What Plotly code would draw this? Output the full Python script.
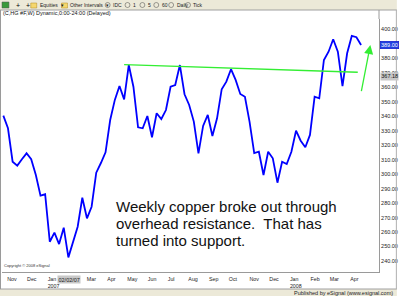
import pandas as pd
import plotly.graph_objects as go

# ---- data ----
start_date = "2006-10-27"
copper = [340.4, 331.7, 308.6, 305.9, 310.3, 314.4, 310.3, 299.4, 285.1, 286.1,
          253.3, 259.6, 251.7, 263.0, 242.5, 253.3, 263.7, 283.7, 269.5, 277.5,
          301.0, 307.7, 315.1, 337.4, 351.3, 360.9, 351.7, 375.4, 360.4, 332.4,
          331.7, 340.2, 325.5, 342.1, 338.1, 344.3, 360.4, 361.6, 375.4, 355.2,
          347.8, 336.3, 314.4, 333.3, 340.9, 326.4, 338.6, 358.7, 363.9, 372.5,
          365.1, 355.4, 353.5, 336.1, 314.6, 315.5, 299.4, 315.5, 311.0, 294.1,
          308.6, 307.0, 315.5, 330.0, 323.1, 318.6, 327.1, 353.5, 352.4, 378.9,
          384.6, 393.2, 384.6, 360.9, 383.5, 395.5, 394.6, 389.3]
dates = pd.date_range(start_date, periods=len(copper), freq="7D")

trend_dates = ["2007-04-27", "2008-04-13"]
trend_vals = [375.7, 370.4]

arrow_tail = ("2008-04-18", 356.3)
arrow_tip = ("2008-05-02", 389.3)

month_ticks = pd.date_range("2006-11-01", "2008-04-01", freq="MS")
# Feb 2007 is hidden behind the crosshair date box in the reference
month_text = ["Nov", "Dec", "Jan<br>2007", "", "Mar", "Apr", "May", "Jun", "Jul",
              "Aug", "Sep", "Oct", "Nov", "Dec", "Jan<br>2008", "Feb", "Mar", "Apr"]
y_ticks = list(range(240, 420, 10))
last_price_label = "389.00"
trend_price_label = "367.18"

note_lines = ["Weekly copper broke out through",
              "overhead resistance.\u00a0 That has",
              "turned into support."]

# ---- geometry helpers (plot area in pixels) ----
W, H = 400, 296
L, R, T, B = 2, 382, 19, 272


def px(x):
    return (x - L) / (R - L)


def py(y):
    return (B - y) / (B - T)


fig = go.Figure()
fig.add_trace(go.Scatter(x=dates, y=copper, mode="lines",
                         line=dict(color="#0000ff", width=1.8), hoverinfo="skip"))
fig.add_trace(go.Scatter(x=trend_dates, y=trend_vals, mode="lines",
                         line=dict(color="#33ee33", width=1.4), hoverinfo="skip"))

tick_font = dict(family="Liberation Sans", size=5.3, color="#222222")

fig.update_layout(
    width=W, height=H,
    margin=dict(l=L, r=W - R, t=T, b=H - B),
    paper_bgcolor="white", plot_bgcolor="white",
    showlegend=False,
    xaxis=dict(range=["2006-10-25", "2008-05-15"], tickvals=month_ticks, ticktext=month_text,
               ticks="", showgrid=False, zeroline=False, showline=True, linecolor="#9a9a9a",
               linewidth=1, ticklabelposition="outside right", tickangle=0, tickfont=tick_font,
               ticklabelstandoff=2),
    yaxis=dict(range=[232.4, 407.2], side="right", tickvals=y_ticks, tickformat=".2f",
               ticks="", showgrid=False, zeroline=False, showline=True, linecolor="#9a9a9a",
               linewidth=1, tickfont=dict(family="Liberation Sans", size=5.5, color="#222222")),
)

shapes = []
# top toolbar
shapes.append(dict(type="rect", xref="paper", yref="paper", x0=px(0), x1=px(W), y0=py(10), y1=py(0),
                   fillcolor="#ece9d8", line=dict(width=0), layer="above"))
shapes.append(dict(type="line", xref="paper", yref="paper", x0=px(0), x1=px(W), y0=py(10), y1=py(10),
                   line=dict(color="#a0a0a0", width=1)))
# bottom status bar
shapes.append(dict(type="rect", xref="paper", yref="paper", x0=px(0), x1=px(W), y0=py(H), y1=py(289),
                   fillcolor="#ece9d8", line=dict(width=0)))
shapes.append(dict(type="line", xref="paper", yref="paper", x0=px(0), x1=px(W), y0=py(289), y1=py(289),
                   line=dict(color="#a0a0a0", width=1)))
# left border and right axis extension
shapes.append(dict(type="line", xref="paper", yref="paper", x0=px(0.5), x1=px(0.5), y0=py(289), y1=py(10),
                   line=dict(color="#9a9a9a", width=1)))
shapes.append(dict(type="line", xref="paper", yref="paper", x0=1, x1=1, y0=1, y1=py(10),
                   line=dict(color="#9a9a9a", width=1)))
shapes.append(dict(type="line", xref="paper", yref="paper", x0=px(399.5), x1=px(399.5), y0=py(289), y1=py(10),
                   line=dict(color="#b0b0b0", width=1)))
# toolbar icons
shapes.append(dict(type="rect", xref="paper", yref="paper", x0=px(2), x1=px(9), y0=py(8), y1=py(2),
                   fillcolor="#3a9a3a", line=dict(color="#555555", width=0.5)))
for xx in [31, 62]:
    shapes.append(dict(type="rect", xref="paper", yref="paper", x0=px(xx), x1=px(xx + 6), y0=py(8), y1=py(3),
                       fillcolor="#f5d76e", line=dict(color="#b08a20", width=0.5)))
for xx in [106, 126, 141, 155, 170, 187]:
    shapes.append(dict(type="circle", xref="paper", yref="paper", x0=px(xx), x1=px(xx + 5), y0=py(7.5), y1=py(2.5),
                       line=dict(color="#444444", width=0.5)))
fig.update_layout(shapes=shapes)

small = dict(family="Liberation Sans", size=5, color="#222222")
anns = []


def ann(x, y, text, font, xanchor="left", **kw):
    anns.append(dict(x=px(x), y=py(y), xref="paper", yref="paper", text=text, showarrow=False,
                     xanchor=xanchor, yanchor="middle", font=font, **kw))


# toolbar text
ann(14, 5, "+", dict(family="Liberation Sans", size=7, color="#000000"))
ann(24, 5, "+", dict(family="Liberation Sans", size=7, color="#000000"))
ann(38, 5, "Equities  \u25be", small)
ann(69, 5, "Other Intervals  \u25be", small)
ann(112, 5, "IDC", small)
ann(132, 5, "1", small)
ann(147, 5, "5", small)
ann(161, 5, "60", small)
ann(176, 5, "Daily", small)
ann(193, 5, "Tick", small)
# chart title
ann(1, 13.5, "(C,HG #F,W) Dynamic,0:00-24:00 (Delayed)", dict(family="Liberation Sans", size=5.5, color="#111111"))
# copyright and status bar
ann(2, 265, "Copyright \u00a9 2008 eSignal", dict(family="Liberation Sans", size=4, color="#333333"))
ann(398, 292.5, "Published by eSignal (www.esignal.com)", dict(family="Liberation Sans", size=5.5, color="#222222"),
    xanchor="right")
# crosshair date label
ann(57, 279, "02/02/07", dict(family="Liberation Sans", size=5.5, color="#222222"),
    bgcolor="#c8c8c8", borderpad=0.5)

# note text
for i, line in enumerate(note_lines):
    ann(115, 206.5 + 17 * i, line, dict(family="Liberation Sans", size=15, color="#111111"))

# price labels on the right axis
anns.append(dict(x=1, y=copper[-1], xref="paper", yref="y", text=last_price_label, showarrow=False,
                 xanchor="left", xshift=1, font=dict(family="Liberation Sans", size=5.5, color="white"),
                 bgcolor="#2040e0", bordercolor="#0000c0", borderwidth=0.5, borderpad=0.5))
anns.append(dict(x=1, y=367.2, xref="paper", yref="y", text=trend_price_label, showarrow=False,
                 xanchor="left", xshift=1, font=dict(family="Liberation Sans", size=5.5, color="#111111"),
                 bgcolor="#c8c8c8", borderpad=0.3))

# green arrow
anns.append(dict(x=arrow_tip[0], y=arrow_tip[1], ax=arrow_tail[0], ay=arrow_tail[1], xref="x", yref="y",
                 axref="x", ayref="y", text="", showarrow=True, arrowhead=2, arrowsize=1.4,
                 arrowwidth=1.3, arrowcolor="#33ee33"))

fig.update_layout(annotations=anns)
fig.write_html("out.html")
